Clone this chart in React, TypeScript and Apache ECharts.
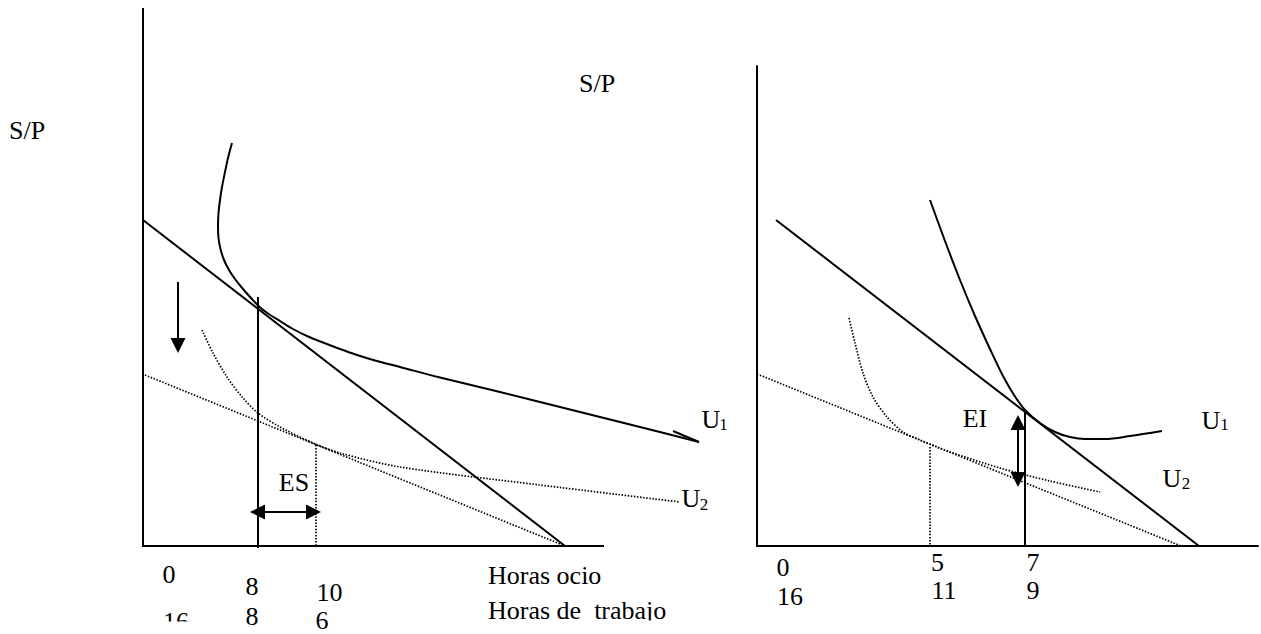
import React, { useEffect, useRef } from 'react';
import * as echarts from 'echarts';

// ---------- Left panel values (x: right of the S/P axis, y: up from the hours axis) ----------
const leftAxes = [[0, 538], [0, 0], [461, 0]];
const leftBudget = [[0, 326], [422, 0]];
const leftBudgetLower = [[2, 171], [422, 0]];
const leftU1 = [
  [89, 403], [85, 388], [82, 374], [79, 359], [77, 346], [75.5, 333], [75, 320],
  [75.5, 308], [77.5, 297], [81, 286], [86, 276], [92, 267], [100, 257], [108, 248],
  [116, 239.5], [125, 232.5], [137, 225], [150, 217], [165, 209.5], [180, 203.5],
  [197, 197], [214, 191], [232, 185.5], [257, 179], [297, 168.5], [357, 154],
  [417, 139], [487, 121.5], [556, 104],
];
const leftU1Hook = [[556, 104], [530, 115]];
const leftU2 = [
  [59, 216], [70, 193], [84, 169], [100, 148], [115, 133], [137, 119],
  [170, 103], [197, 93], [257, 79], [397, 61], [537, 44],
];
const leftOptimum = [[115, 249], [115, -2]];
const leftNewOptimum = [[173, 101], [173, 0]];
const leftDropShaft = [[35, 264], [35, 203]];
const leftESShaft = [[118, 34], [167, 34]];
// arrow heads: [x, y, direction in degrees]
const leftHeads = [[35, 193, 270], [107, 34, 180], [178, 34, 0]];

// ---------- Right panel values ----------
const rightBudget = [[19, 326], [442, 0]];
const rightBudgetLower = [[0, 172], [424, 0]];
const rightU1 = [
  [173, 346], [188, 305], [203, 266], [218, 230], [233, 197], [246, 170],
  [257, 151], [268, 136], [283, 123], [298, 114], [313, 109], [328, 107],
  [348, 107], [373, 110], [405, 115],
];
const rightU2 = [
  [92, 228], [98, 203], [106, 173], [116, 149], [130, 129], [146, 114],
  [163, 106], [180, 99], [193, 94], [243, 78], [293, 65], [343, 54],
];
const rightOptimum = [[268, 136], [268, 0]];
const rightNewOptimum = [[173, 99], [173, 0]];
const rightEIShaft = [[261, 120], [261, 70]];
const rightHeads = [[261, 131, 90], [261, 59, 270]];

// ---------- Texts ----------
const axisTitle = 'S/P';
const leisureTitle = 'Horas ocio';
const workTitle = 'Horas de  trabajo';
const leftLeisureTicks = ['0', '8', '10'];
const leftWorkTicks = ['16', '8', '6'];
const rightLeisureTicks = ['0', '5', '7'];
const rightWorkTicks = ['16', '11', '9'];
const effectLabels = ['ES', 'EI'];
const curveNames = ['U', '1', '2'];

// ---------- Layout (pixel positions of the annotation texts) ----------
const leftLeisurePos = [[169, 574], [252, 586], [329.5, 592]];
const leftWorkPos = [[176, 621], [252, 616], [322, 620.5]];
const rightLeisurePos = [[783, 567], [937.5, 562], [1033, 562]];
const rightWorkPos = [[790, 596], [944, 590], [1033, 590]];

const FONT = '"Liberation Serif", "Times New Roman", serif';

function txt(text: string, x: number, y: number, size = 26, align = 'center') {
  return {
    type: 'text',
    x,
    y,
    z: 10,
    silent: true,
    style: {
      text,
      fill: '#000',
      font: `${size}px ${FONT}`,
      align,
      verticalAlign: 'middle',
      textAlign: align,
      textVerticalAlign: 'middle',
    },
  };
}

function solid(data: number[][], gi: number, smooth: number | boolean = false, width = 2) {
  return {
    type: 'line',
    xAxisIndex: gi,
    yAxisIndex: gi,
    data,
    symbol: 'none',
    showSymbol: false,
    smooth,
    silent: true,
    clip: false,
    lineStyle: { color: '#000', width, join: 'miter' },
  };
}

function dotted(data: number[][], gi: number, smooth: number | boolean = false) {
  return {
    type: 'line',
    xAxisIndex: gi,
    yAxisIndex: gi,
    data,
    symbol: 'none',
    showSymbol: false,
    smooth,
    silent: true,
    clip: false,
    lineStyle: { color: '#000', width: 1.7, type: [1.5, 1.6] },
  };
}

function heads(data: number[][], gi: number, len: number, half: number) {
  return {
    type: 'custom',
    coordinateSystem: 'cartesian2d',
    xAxisIndex: gi,
    yAxisIndex: gi,
    data,
    silent: true,
    encode: { x: 0, y: 1 },
    renderItem: (params: any, api: any) => {
      const p = api.coord([api.value(0), api.value(1)]);
      const a = (api.value(2) * Math.PI) / 180;
      const d = [Math.cos(a), -Math.sin(a)];
      const b = [p[0] - d[0] * len, p[1] - d[1] * len];
      const n = [-d[1], d[0]];
      return {
        type: 'polygon',
        shape: {
          points: [
            [p[0], p[1]],
            [b[0] + n[0] * half, b[1] + n[1] * half],
            [b[0] - n[0] * half, b[1] - n[1] * half],
          ],
        },
        style: { fill: '#000', stroke: 'none' },
      };
    },
  };
}

function axis(max: number, showLine: boolean) {
  return {
    type: 'value',
    min: 0,
    max,
    axisLine: { show: showLine, lineStyle: { color: '#000', width: 2 } },
    axisTick: { show: false },
    axisLabel: { show: false },
    splitLine: { show: false },
  };
}

export default function App() {
  const ref = useRef<HTMLDivElement>(null);
  useEffect(() => {
    if (!ref.current) return;
    const chart = echarts.init(ref.current, undefined, { renderer: 'svg' });
    const graphics: any[] = [];
    graphics.push(txt(axisTitle, 9, 130, 26, 'left'));
    graphics.push(txt(axisTitle, 579, 83, 26, 'left'));
    leftLeisureTicks.forEach((t, i) => graphics.push(txt(t, leftLeisurePos[i][0], leftLeisurePos[i][1])));
    leftWorkTicks.forEach((t, i) => graphics.push(txt(t, leftWorkPos[i][0], leftWorkPos[i][1])));
    rightLeisureTicks.forEach((t, i) => graphics.push(txt(t, rightLeisurePos[i][0], rightLeisurePos[i][1])));
    rightWorkTicks.forEach((t, i) => graphics.push(txt(t, rightWorkPos[i][0], rightWorkPos[i][1])));
    graphics.push(txt(leisureTitle, 488, 575, 26, 'left'));
    graphics.push(txt(workTitle, 488, 610, 26, 'left'));
    graphics.push(txt(effectLabels[0], 294, 482.5));
    graphics.push(txt(effectLabels[1], 975, 418));
    // curve names with subscripts
    graphics.push(txt(curveNames[0], 711, 419));
    graphics.push(txt(curveNames[1], 723.5, 424, 17));
    graphics.push(txt(curveNames[0], 691, 498));
    graphics.push(txt(curveNames[2], 704, 504, 17));
    graphics.push(txt(curveNames[0], 1211, 420));
    graphics.push(txt(curveNames[1], 1224.5, 424, 17));
    graphics.push(txt(curveNames[0], 1172, 478));
    graphics.push(txt(curveNames[2], 1186, 483, 17));
    // page clipping of the lowest text line
    graphics.push({ type: 'rect', z: 20, silent: true, shape: { x: 158, y: 621.5, width: 40, height: 14 }, style: { fill: '#fff' } });
    graphics.push({ type: 'rect', z: 20, silent: true, shape: { x: 480, y: 620.5, width: 210, height: 14 }, style: { fill: '#fff' } });

    chart.setOption({
      animation: false,
      backgroundColor: '#fff',
      grid: [
        { left: 143, top: 8, width: 600, height: 538, containLabel: false },
        { left: 757, top: 66, width: 501, height: 480, containLabel: false },
      ],
      xAxis: [
        { ...axis(600, false), gridIndex: 0 },
        { ...axis(501, true), gridIndex: 1 },
      ],
      yAxis: [
        { ...axis(538, false), gridIndex: 0 },
        { ...axis(480, true), gridIndex: 1 },
      ],
      series: [
        solid(leftAxes, 0),
        solid(leftBudget, 0),
        dotted(leftBudgetLower, 0),
        solid(leftU1, 0, 0.3),
        solid(leftU1Hook, 0),
        dotted(leftU2, 0, 0.3),
        solid(leftOptimum, 0),
        dotted(leftNewOptimum, 0),
        solid(leftDropShaft, 0),
        solid(leftESShaft, 0),
        heads(leftHeads, 0, 15, 7.5),
        solid(rightBudget, 1),
        dotted(rightBudgetLower, 1),
        solid(rightU1, 1, 0.3),
        dotted(rightU2, 1, 0.3),
        solid(rightOptimum, 1),
        dotted(rightNewOptimum, 1),
        solid(rightEIShaft, 1),
        heads(rightHeads, 1, 15, 7.5),
      ],
      graphic: graphics,
    });
    return () => chart.dispose();
  }, []);
  return (
    <div
      ref={ref}
      style={{ position: 'absolute', left: 0, top: 0, width: 1261, height: 634, background: '#fff' }}
    />
  );
}
